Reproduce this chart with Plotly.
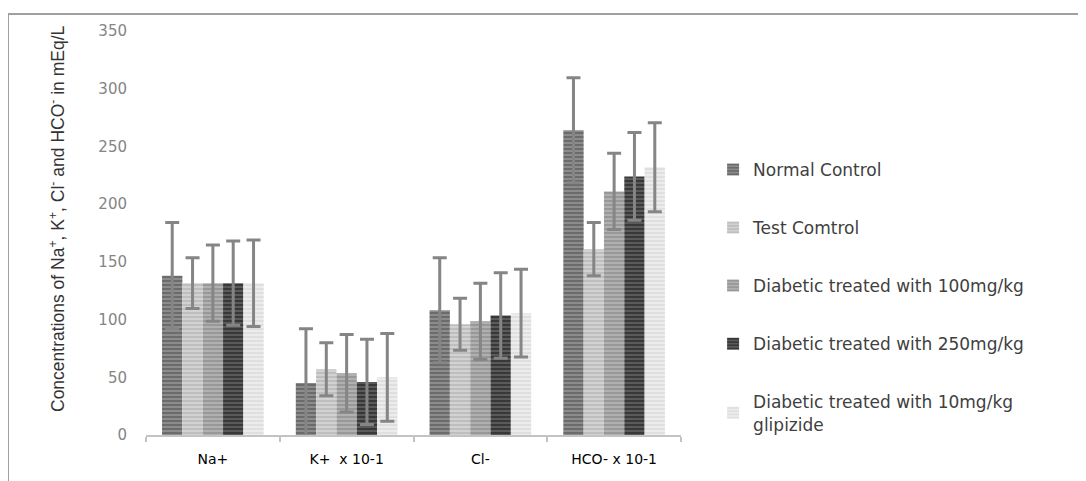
import plotly.graph_objects as go

categories = ["Na+", "K+  x 10-1", "Cl-", "HCO- x 10-1"]
series_names = [
    "Normal Control",
    "Test Comtrol",
    "Diabetic treated with 100mg/kg",
    "Diabetic treated with 250mg/kg",
    "Diabetic treated with 10mg/kg<br>glipizide",
]
normal_control = [138, 45, 108, 264]
normal_control_err = [46, 47, 45.5, 45.5]
test_control = [131.5, 57, 96, 161]
test_control_err = [22, 23, 22.5, 23]
diab_100 = [131.5, 53.5, 98.5, 211]
diab_100_err = [33, 33.5, 33, 33]
diab_250 = [131.5, 46, 103.5, 224]
diab_250_err = [36.5, 37, 37, 38]
diab_glip = [131.5, 50, 105.5, 232]
diab_glip_err = [37.5, 38, 38, 38.5]

values = [normal_control, test_control, diab_100, diab_250, diab_glip]
errors = [normal_control_err, test_control_err, diab_100_err, diab_250_err, diab_glip_err]
bg_colors = ["#8c8c8c", "#d2d2d2", "#b0b0b0", "#5a5a5a", "#ececec"]
fg_colors = ["#4a4a4a", "#a9a9a9", "#808080", "#151515", "#d2d2d2"]

fig = go.Figure()
for i in range(5):
    fig.add_trace(go.Bar(
        x=categories, y=values[i], name=series_names[i],
        legendgroup=str(i),
        marker=dict(color=bg_colors[i], line=dict(width=0),
                    pattern=dict(shape="-", fgcolor=fg_colors[i], bgcolor=bg_colors[i],
                                 size=4, solidity=0.5, fillmode="overlay")),
        error_y=dict(type="data", array=errors[i], visible=True,
                     color="#858585", thickness=3, width=7),
    ))

fig.update_layout(
    width=1078, height=473,
    margin=dict(l=138, r=405, t=23, b=46),
    paper_bgcolor="white", plot_bgcolor="white",
    barmode="group", bargap=0.24, bargroupgap=0,
    font=dict(family="Liberation Sans", color="#404040"),
    showlegend=True,
    legend=dict(x=1.06, y=0.342, xanchor="left", yanchor="middle",
                traceorder="grouped", tracegroupgap=33,
                font=dict(size=17, family="DejaVu Sans", color="#404040"),
                itemwidth=30),
    xaxis=dict(showline=True, linecolor="#c3c3c3", linewidth=2,
               ticks="outside", tickson="boundaries", tickcolor="#c3c3c3",
               ticklen=5, tickwidth=2, ticklabelstandoff=10,
               tickfont=dict(size=14, color="#000000", family="DejaVu Sans")),
    yaxis=dict(range=[0, 350], tickvals=[0, 50, 100, 150, 200, 250, 300, 350],
               showgrid=False, zeroline=False, showline=False,
               ticks="outside", ticklen=15, tickcolor="rgba(0,0,0,0)",
               tickfont=dict(size=15, color="#858585", family="DejaVu Sans")),
    annotations=[dict(
        text="Concentrations of Na<sup>+</sup>, K<sup>+</sup>, Cl<sup>-</sup> and HCO<sup>-</sup> in mEq/L",
        xref="paper", yref="paper", x=(49 - 138) / 535, y=(427 - 211) / 404,
        xanchor="center", yanchor="middle", textangle=-90, showarrow=False,
        font=dict(size=17.5, color="#333333", family="Liberation Sans Narrow, Liberation Sans"))],
    shapes=[dict(type="rect", xref="paper", yref="paper",
                 x0=-138 / 535, x1=1.9, y0=-0.3, y1=(427 - 6) / 404,
                 line=dict(color="#a0a0a0", width=2), layer="below")],
)

fig.write_html("out.html")
